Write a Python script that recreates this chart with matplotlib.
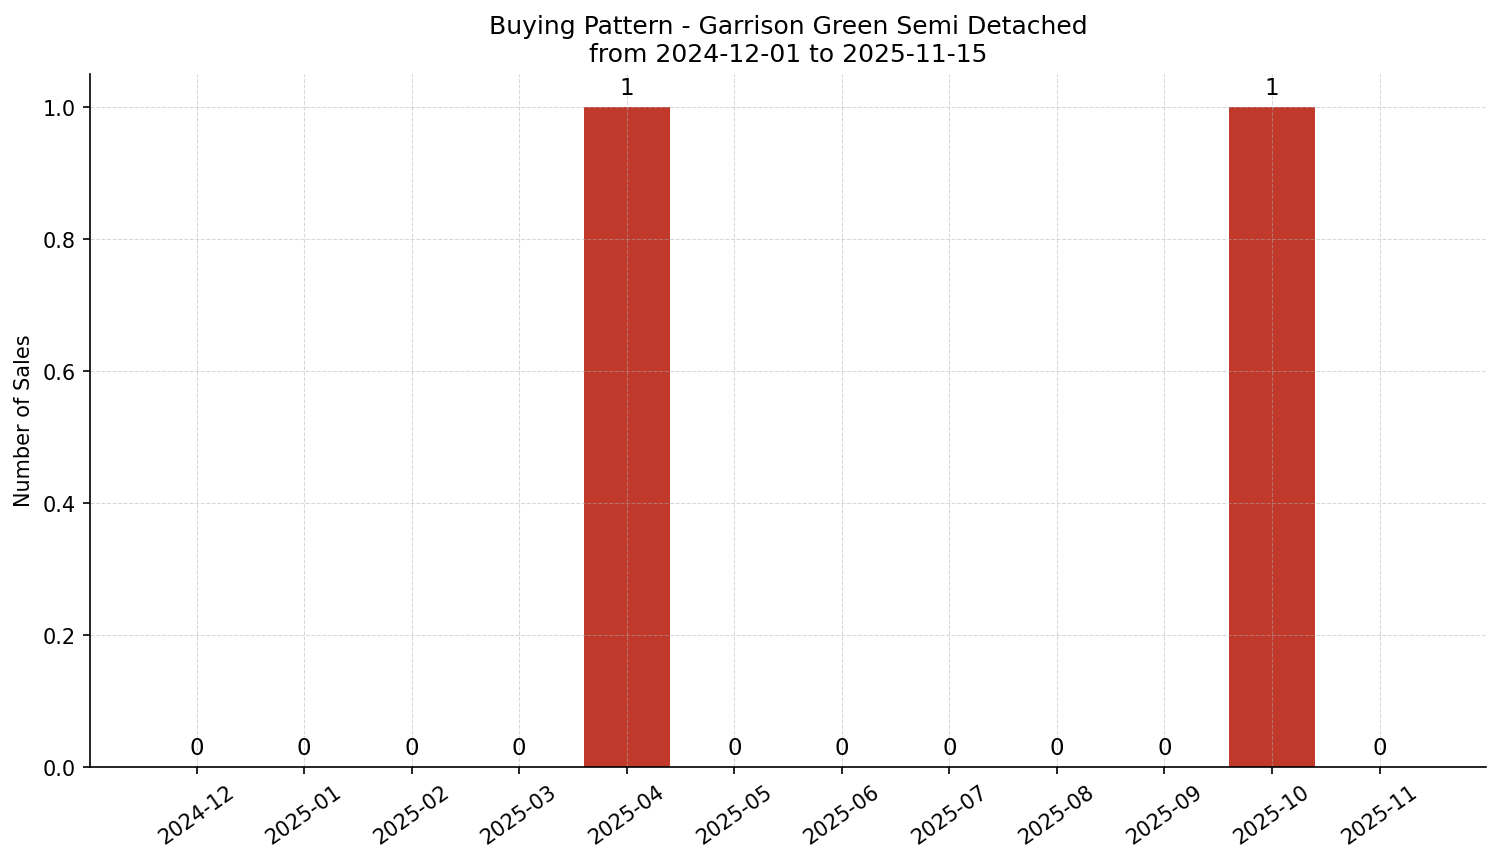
import numpy as np
import matplotlib
matplotlib.use("Agg")
import matplotlib.pyplot as plt

months = ["2024-12", "2025-01", "2025-02", "2025-03", "2025-04", "2025-05",
          "2025-06", "2025-07", "2025-08", "2025-09", "2025-10", "2025-11"]
sales = [0, 0, 0, 0, 1, 0, 0, 0, 0, 0, 1, 0]

fig, ax = plt.subplots(figsize=(10.007, 5.753), dpi=150)

x = np.arange(len(months))
bars = ax.bar(x, sales, width=0.8, color="#c0392b")
ax.bar_label(bars, labels=[str(v) for v in sales], padding=3.5, fontsize=11)

ax.set_xticks(x)
ax.set_xticklabels(months, rotation=35, ha="center")
ax.set_ylabel("Number of Sales")
ax.set_title("Buying Pattern - Garrison Green Semi Detached\nfrom 2024-12-01 to 2025-11-15", fontsize=12)
ax.grid(True, linestyle="--", linewidth=0.5, alpha=0.5)
ax.spines["top"].set_visible(False)
ax.spines["right"].set_visible(False)

fig.subplots_adjust(left=0.060, right=0.990, top=0.9135, bottom=0.1105)
fig.savefig("out.png", dpi=150)
